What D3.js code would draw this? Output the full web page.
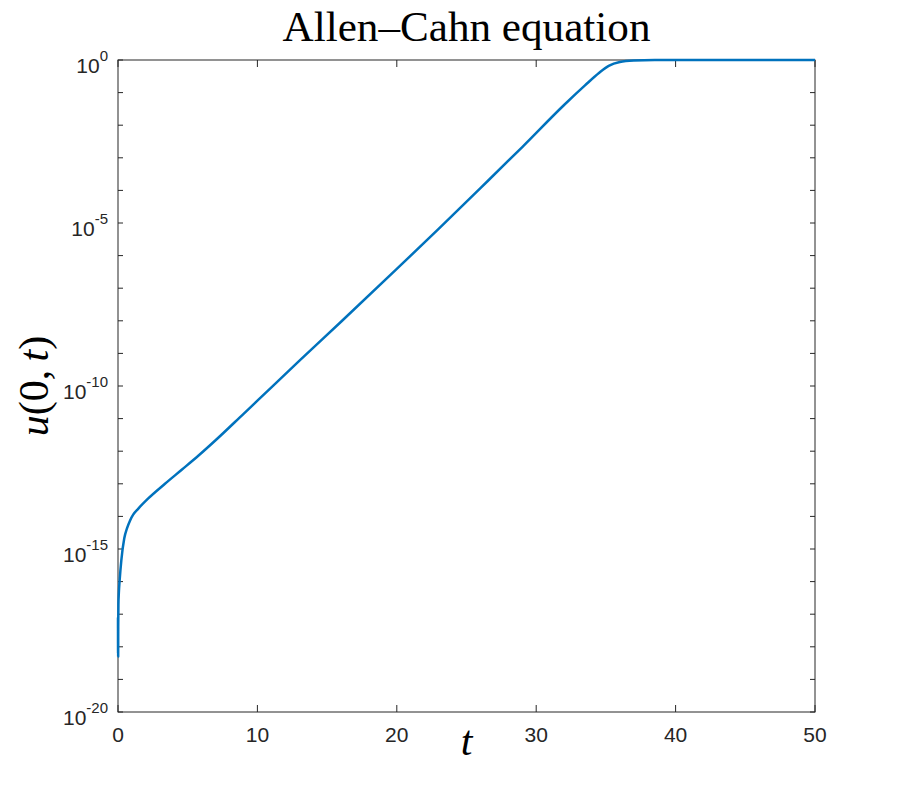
<!DOCTYPE html>
<html lang="en">
<head>
    <meta charset="UTF-8">
    <title>Allen-Cahn equation</title>
    <script src="https://cdn.jsdelivr.net/npm/d3@7"></script>
    <style>
        body { margin: 0; background: #FFFFFF; }
        .tick-label { font-family: "Liberation Sans", Arial, sans-serif; fill: #262626; }
        .math { font-family: "Liberation Serif", "DejaVu Serif", serif; fill: #000000; }
    </style>
</head>
<body>
    <div id="canvas"></div>

    <script>
        // values: t and log10 u(0,t)
        const tValues = [0, 0.004, 0.008, 0.012, 0.016, 0.03, 0.06, 0.12, 0.24, 0.45, 0.65, 0.86, 1.1, 1.46, 2.17,
            3.37, 4.57, 5.76, 6.96, 8.99, 10, 13, 16, 20, 23, 26, 29, 32, 33.5, 34.5, 35.2,
            36, 37, 38.5, 40, 45, 50];
        const logU = [-17.1, -18.2, -17.4, -18.3, -17.4, -16.7, -16.35, -15.95, -15.34, -14.67, -14.36, -14.13, -13.94, -13.76, -13.45,
            -13.0, -12.57, -12.14, -11.68, -10.86, -10.45, -9.23, -8.03, -6.41, -5.18, -3.93, -2.67, -1.38, -0.78, -0.40, -0.18,
            -0.06, -0.015, 0, 0, 0, 0];

        const xTicks = [0, 10, 20, 30, 40, 50];
        const yMajorExp = [0, -5, -10, -15, -20];
        const yMinorExp = d3.range(-20, 1);
    </script>

    <script>
        const width = 900;
        const height = 800;
        const margin = { top: 60, right: 85, bottom: 88, left: 118 };
        const plotWidth = width - margin.left - margin.right;
        const plotHeight = height - margin.top - margin.bottom;

        const svg = d3.select('#canvas')
            .append('svg')
            .attr('width', width)
            .attr('height', height);

        const g = svg.append('g')
            .attr('transform', `translate(${margin.left},${margin.top})`);

        const x = d3.scaleLinear().domain([0, 50]).range([0, plotWidth]);
        const y = d3.scaleLog().domain([1e-20, 1]).range([plotHeight, 0]);

        const points = tValues.map((t, i) => ({ t: t, u: Math.pow(10, logU[i]) }));

        // box
        g.append('rect')
            .attr('width', plotWidth)
            .attr('height', plotHeight)
            .attr('fill', 'none')
            .attr('stroke', '#262626')
            .attr('stroke-width', 1);

        // x ticks, bottom and top
        xTicks.forEach((t) => {
            const px = x(t);
            g.append('line').attr('x1', px).attr('x2', px)
                .attr('y1', plotHeight).attr('y2', plotHeight - 7)
                .attr('stroke', '#262626');
            g.append('line').attr('x1', px).attr('x2', px)
                .attr('y1', 0).attr('y2', 7)
                .attr('stroke', '#262626');
            g.append('text')
                .attr('class', 'tick-label')
                .attr('x', px)
                .attr('y', plotHeight + 29.5)
                .attr('text-anchor', 'middle')
                .style('font-size', '21px')
                .text(t);
        });

        // y ticks, left and right
        yMinorExp.forEach((e) => {
            const py = y(Math.pow(10, e));
            g.append('line').attr('x1', 0).attr('x2', 5)
                .attr('y1', py).attr('y2', py)
                .attr('stroke', '#262626');
            g.append('line').attr('x1', plotWidth).attr('x2', plotWidth - 5)
                .attr('y1', py).attr('y2', py)
                .attr('stroke', '#262626');
        });

        yMajorExp.forEach((e) => {
            const py = y(Math.pow(10, e));
            const label = g.append('text')
                .attr('class', 'tick-label')
                .attr('x', -10)
                .attr('y', py + 13)
                .attr('text-anchor', 'end')
                .style('font-size', '21px');
            label.append('tspan').text('10');
            label.append('tspan')
                .attr('dy', -12)
                .style('font-size', '15px')
                .text(e);
        });

        // curve
        const line = d3.line()
            .x((d) => x(d.t))
            .y((d) => y(d.u))
            .curve(d3.curveMonotoneX);

        g.append('path')
            .datum(points)
            .attr('d', line)
            .attr('fill', 'none')
            .attr('stroke', '#0072BD')
            .attr('stroke-width', 2.5)
            .attr('stroke-linejoin', 'round');

        // title
        const title = svg.append('text')
            .attr('class', 'math')
            .attr('x', margin.left + plotWidth / 2)
            .attr('y', 41)
            .attr('text-anchor', 'middle')
            .style('font-size', '34px')
            .text('Allen\u2013Cahn equation');
        const titleWidth = title.node().getComputedTextLength();
        title.style('font-size', (34 * 368 / titleWidth) + 'px');

        // x label
        svg.append('text')
            .attr('class', 'math')
            .attr('x', margin.left + plotWidth / 2)
            .attr('y', 755)
            .attr('text-anchor', 'middle')
            .style('font-size', '42px')
            .style('font-style', 'italic')
            .text('t');

        // y label
        const yLabel = svg.append('text')
            .attr('class', 'math')
            .attr('transform', `translate(48,${margin.top + plotHeight / 2}) rotate(-90)`)
            .attr('text-anchor', 'middle')
            .style('font-size', '42px');
        yLabel.append('tspan').style('font-style', 'italic').text('u');
        yLabel.append('tspan').text('(0,\u2009');
        yLabel.append('tspan').style('font-style', 'italic').text('t');
        yLabel.append('tspan').text(')');
    </script>
</body>
</html>
